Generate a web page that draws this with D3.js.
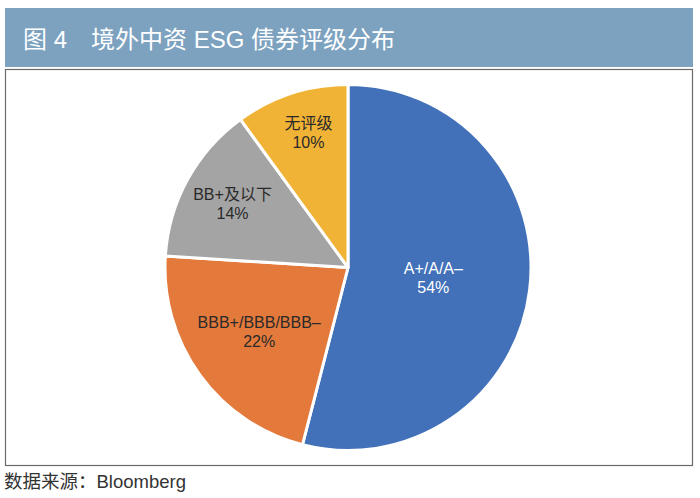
<!DOCTYPE html>
<html><head><meta charset="utf-8">
<script src="https://cdn.jsdelivr.net/npm/d3@7"></script>
<style>body{margin:0;background:#fff;}svg{display:block;}</style>
</head><body>
<svg id="c" width="700" height="498"></svg>
<script>
const categories = ["A+/A/A–", "BBB+/BBB/BBB–", "BB+及以下", "无评级"];
const values = [54, 22, 14, 10];
const labels = ["54%", "22%", "14%", "10%"];
const colors = ["#4271b9", "#e3793b", "#a4a4a4", "#f1b335"];
const textColors = ["#ffffff", "#2a2a2a", "#2a2a2a", "#2a2a2a"];
const title = "图 4　境外中资 ESG 债券评级分布";
const source = "数据来源：Bloomberg";

const svg = d3.select("#c");
const font = "'Liberation Sans','Noto Sans CJK SC',sans-serif";

svg.append("rect").attr("x",5).attr("y",8).attr("width",688).attr("height",59).attr("fill","#7ca2c0");
svg.append("text").attr("x",23).attr("y",48).attr("fill","#fff").attr("font-family",font)
  .attr("font-size",24).text(title);

svg.append("rect").attr("x",5.5).attr("y",69.5).attr("width",687).attr("height",396)
  .attr("fill","#fff").attr("stroke","#6a6a6a").attr("stroke-width",1.2);

const cx = 348, cy = 267.5, r = 183;
const pie = d3.pie().sort(null).value(d => d)(values);
const arc = d3.arc().innerRadius(0).outerRadius(r);
const g = svg.append("g").attr("transform",`translate(${cx},${cy})`);
g.selectAll("path").data(pie).join("path")
  .attr("d",arc).attr("fill",(d,i)=>colors[i])
  .attr("stroke","#fff").attr("stroke-width",3).attr("stroke-linejoin","round");

const labelRadius = [0.47, 0.6, 0.72, 0.77];
const labelPos = pie.map((d,i)=>{
  const la = d3.arc().innerRadius(r*labelRadius[i]).outerRadius(r*labelRadius[i]);
  return la.centroid(d);
});
const lt = g.selectAll("text.lbl").data(pie).join("text").attr("class","lbl")
  .attr("text-anchor","middle")
  .attr("font-family",font).attr("font-size",16).attr("fill",(d,i)=>textColors[i])
  .attr("transform",(d,i)=>`translate(${labelPos[i][0]+(i===3?4:0)},${labelPos[i][1]})`);
lt.append("tspan").attr("x",0).attr("y",-4).text((d,i)=>categories[i]);
lt.append("tspan").attr("x",0).attr("dy",19).text((d,i)=>labels[i]);

svg.append("text").attr("x",4).attr("y",488).attr("fill","#333").attr("font-family",font)
  .attr("font-size",18.5).text(source);
</script>
</body></html>
